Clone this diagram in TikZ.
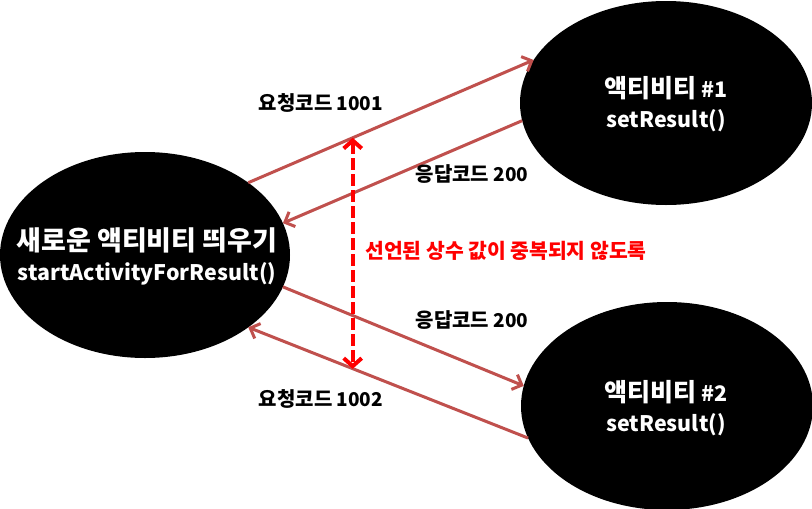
\documentclass[tikz,border=0pt]{standalone}
\usepackage{fontspec}
\setmainfont{Noto Sans CJK KR}
\usetikzlibrary{shapes.geometric,arrows.meta}
\definecolor{linkred}{RGB}{192,80,77}
\definecolor{notered}{RGB}{255,0,0}
\newcommand\sz[2]{{\fontsize{#1}{30}\selectfont #2}}
\tikzset{
  blob/.style={ellipse, fill=black, draw=none, inner sep=0pt, outer sep=0pt},
  blobtext/.style={text=white, font=\bfseries\fontsize{24}{30}\selectfont, align=center, inner sep=0pt},
  link/.style={draw=linkred, line width=3pt, -{Straight Barb[length=8pt,width=16pt,line width=3pt]}},
  dashline/.style={draw=notered, line width=4pt, dash pattern=on 12pt off 4pt,
    {Straight Barb[length=8pt,width=18pt,line width=4pt]}-{Straight Barb[length=8pt,width=18pt,line width=4pt]}},
  lbl/.style={font=\bfseries\fontsize{19}{23}\selectfont, text=black, inner sep=0pt}
}
\begin{document}
\begin{tikzpicture}[x=1pt,y=-1pt]
\useasboundingbox[fill=white] (0,0) rectangle (812,509);
\node[blob, minimum width=290pt, minimum height=206pt] (start) at (145,255) {};
\node[blob, minimum width=292pt, minimum height=204pt] (act1) at (666,103) {};
\node[blob, minimum width=292pt, minimum height=208pt] (act2) at (667,406) {};
\node[blobtext] (starttxt) at (147,256) {\sz{27}{새로운 액티비티 띄우기}\\\sz{21.4}{startActivityForResult()}};
\node[blobtext] (act1txt) at (666,104) {\sz{25}{액티비티} \sz{21.4}{\#1}\\\sz{21.4}{setResult()}};
\node[blobtext] (act2txt) at (666,408) {\sz{25}{액티비티} \sz{21.4}{\#2}\\\sz{21.4}{setResult()}};
\draw[link] (start.35.6) -- coordinate[pos=0.366] (d1) (act1.162.4);
\draw[link] (act1.187.6) -- (start.13.7);
\draw[link] (start.-13.7) -- (act2.172.1);
\draw[link] (act2.193.1) -- coordinate[pos=0.625] (d2) (start.-35.2);
\draw[dashline] (d1) -- (d1 |- d2);
\node[lbl] (l1) at (321,103) {\sz{20}{요청코드} 1001};
\node[lbl] (l2) at (472,174) {\sz{20}{응답코드} 200};
\node[lbl] (l3) at (472,320) {\sz{20}{응답코드} 200};
\node[lbl] (l4) at (321,399) {\sz{20}{요청코드} 1002};
\node[lbl, text=notered, font=\bfseries\fontsize{20.4}{24}\selectfont] (note) at (506,251) {선언된 상수 값이 중복되지 않도록};
\end{tikzpicture}
\end{document}
